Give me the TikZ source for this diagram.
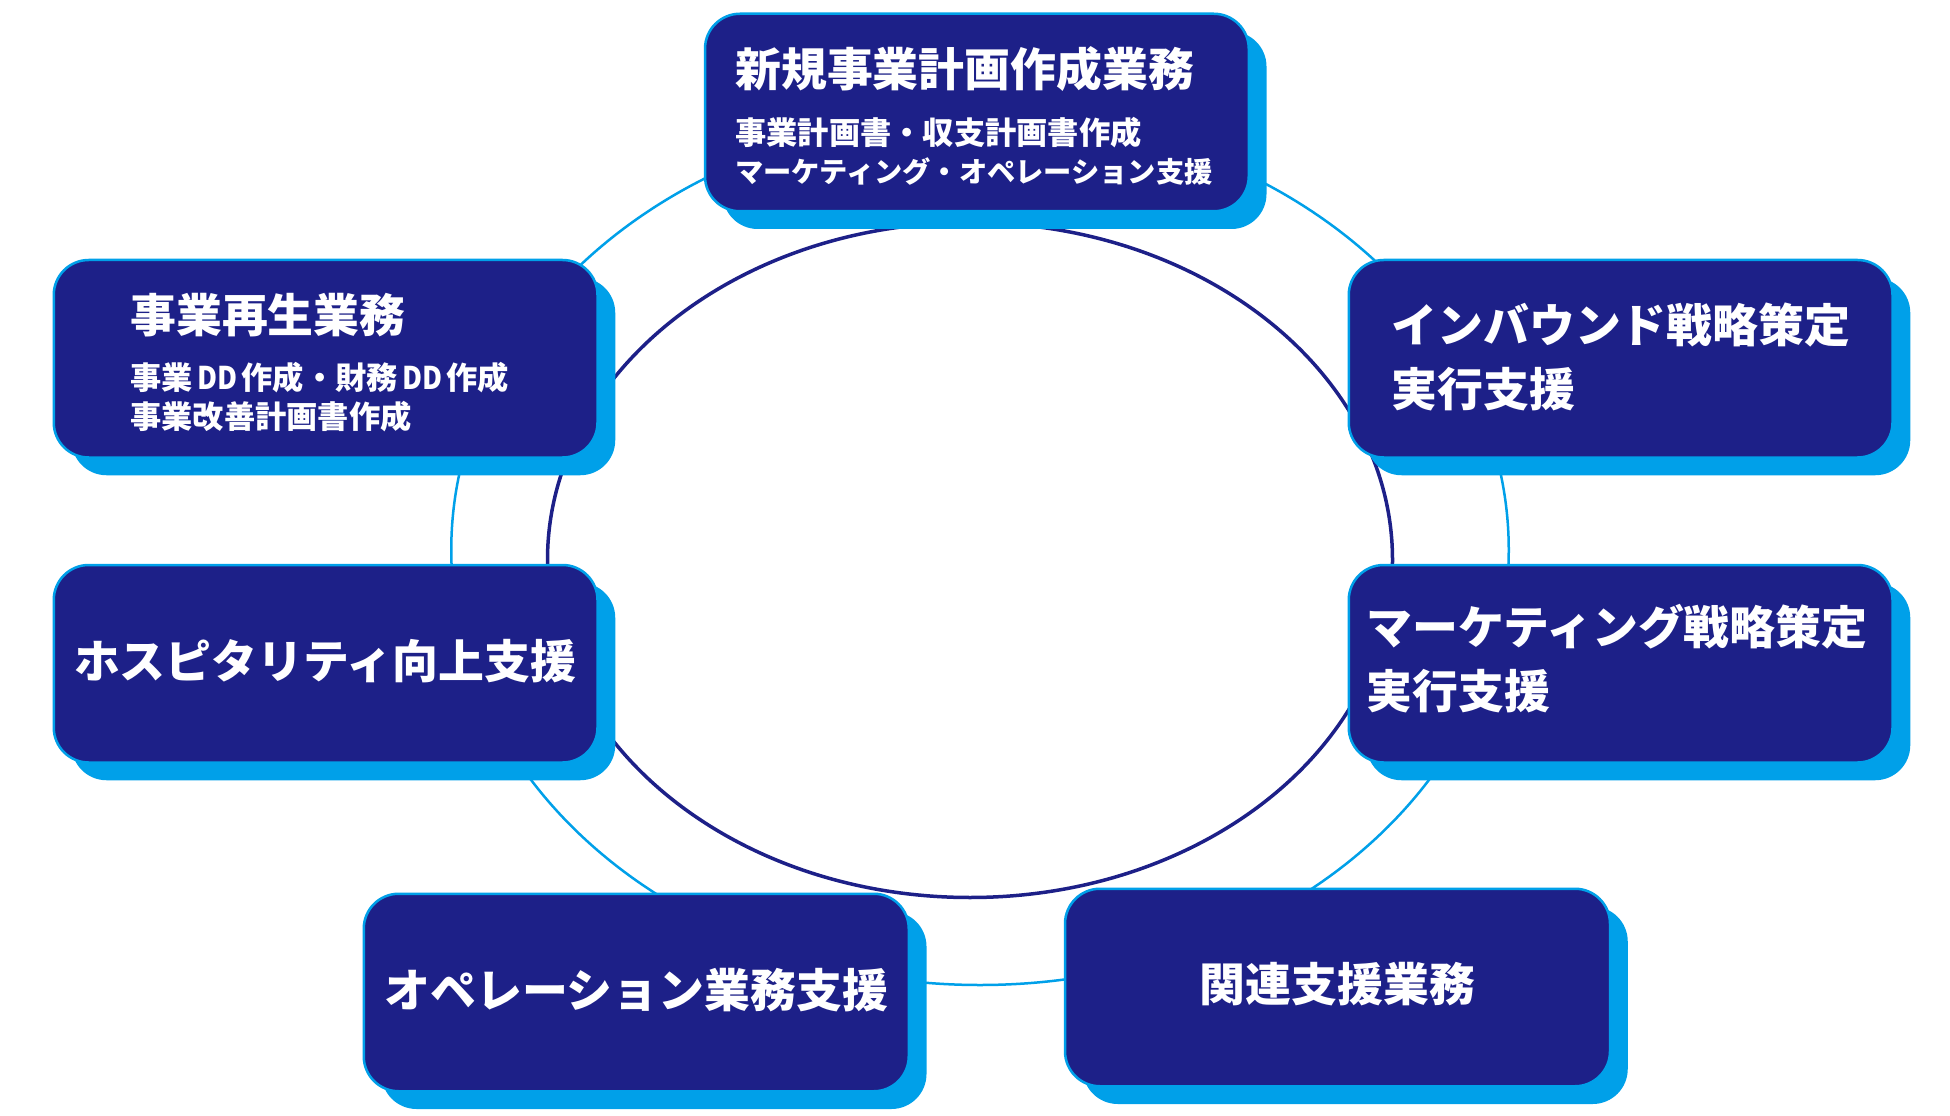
\documentclass[tikz,border=0pt]{standalone}
\usepackage{fontspec}
\newfontfamily\jp{Noto Sans CJK JP}
\definecolor{navy}{HTML}{1D2088}
\definecolor{lblue}{HTML}{00A0E9}
\newcommand{\dd}{\hspace{0.14em}\scalebox{0.88}[1]{DD}\hspace{0.14em}}
\tikzset{
  shadowbox/.style={fill=lblue, rounded corners=28pt, anchor=north west, minimum width=435pt, minimum height=158pt, inner sep=0pt},
  frontbox/.style={fill=navy, draw=lblue, line width=2pt, rounded corners=28pt, anchor=north west, minimum width=435pt, minimum height=158pt, inner sep=0pt},
  ttl/.style={font=\jp\bfseries\fontsize{36.7}{40}\selectfont, text=white, inner sep=0pt},
  subA/.style={font=\jp\bfseries\fontsize{25}{28}\selectfont, text=white, inner sep=0pt, anchor=west},
  subB/.style={font=\jp\bfseries\fontsize{22.6}{26}\selectfont, text=white, inner sep=0pt, anchor=west},
  outerring/.style={draw=lblue, line width=2pt},
  innerring/.style={draw=navy, line width=2.8pt}
}
\begin{document}
\begin{tikzpicture}[x=1pt,y=-1pt]
\useasboundingbox (0,0) rectangle (1560,892.8);
\fill[white] (0,0) rectangle (1560,892.8);
% rings
\draw[outerring] (784,440) ellipse [x radius=423pt, y radius=348pt];
\draw[innerring] (776,448) ellipse [x radius=338pt, y radius=270pt];
% shadows
\node[shadowbox] (topS) at (578,25) {};
\node[shadowbox] (l1S) at (57,222) {};
\node[shadowbox] (l2S) at (57,466) {};
\node[shadowbox] (r1S) at (1093,222) {};
\node[shadowbox] (r2S) at (1093,466) {};
\node[shadowbox, minimum width=436pt] (blS) at (305,729) {};
\node[shadowbox, minimum width=436pt] (brS) at (866,725) {};
% fronts
\node[frontbox] (top) at (563,10) {};
\node[frontbox] (l1) at (42,207) {};
\node[frontbox] (l2) at (42,451) {};
\node[frontbox] (r1) at (1078,207) {};
\node[frontbox] (r2) at (1078,451) {};
\node[frontbox, minimum width=436pt] (bl) at (290,714) {};
\node[frontbox, minimum width=436pt] (br) at (851,710) {};
% texts
\node[ttl, anchor=west] (topT) at (588,55) {新規事業計画作成業務};
\node[subA] (topS1) at (588,106) {事業計画書・収支計画書作成};
\node[subB] (topS2) at (588,137) {マーケティング・オペレーション支援};
\node[ttl, anchor=west] (l1T) at (104,252) {事業再生業務};
\node[subA] (l1S1) at (104,302) {事業\dd 作成・財務\dd 作成};
\node[subA] (l1S2) at (104,333) {事業改善計画書作成};
\node[ttl] (l2T) at (260,529) {ホスピタリティ向上支援};
\node[ttl, anchor=west] (r1T) at (1113,260) {インバウンド戦略策定};
\node[ttl, anchor=west] (r1T2) at (1113,311) {実行支援};
\node[ttl, anchor=west] (r2T) at (1093,501) {マーケティング戦略策定};
\node[ttl, anchor=west] (r2T2) at (1093,553) {実行支援};
\node[ttl] (blT) at (509,792) {オペレーション業務支援};
\node[ttl] (brT) at (1070,787) {関連支援業務};
\end{tikzpicture}
\end{document}
